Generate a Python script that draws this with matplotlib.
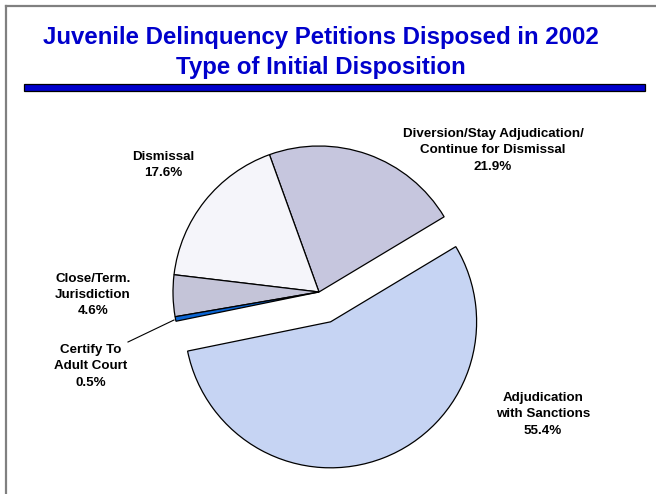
import matplotlib
matplotlib.use("Agg")
import matplotlib.pyplot as plt
from matplotlib.patches import Rectangle

# ── Data ──────────────────────────────────────────────────────────────────────
categories = [
    "Diversion/Stay Adjudication/\nContinue for Dismissal",
    "Dismissal",
    "Close/Term.\nJurisdiction",
    "Certify To\nAdult Court",
    "Adjudication\nwith Sanctions",
]
shares = [21.9, 17.6, 4.6, 0.5, 55.4]
slice_colors = ["#C6C6DE", "#F5F5FA", "#C4C4D8", "#0A64D2", "#C6D4F3"]

# label anchor points in pixel coords (x, y from top)
label_pos = [(493, 150), (163, 165), (93, 295), (91, 366), (543, 414)]

W, H = 656, 494
R = 146                       # pie radius in px
explode = [0, 0, 0, 0, 32]    # pie() takes this in data units (px here)

# ── Figure ────────────────────────────────────────────────────────────────────
plt.rcParams["font.family"] = ["Liberation Sans", "DejaVu Sans"]
fig = plt.figure(figsize=(W / 100, H / 100), dpi=100)
ax = fig.add_axes([0, 0, 1, 1])

ax.pie(
    shares,
    colors=slice_colors,
    explode=explode,
    startangle=31,
    counterclock=True,
    radius=R,
    center=(319, H - 292),
    wedgeprops=dict(edgecolor="black", linewidth=0.9),
)
ax.set_xlim(0, W)
ax.set_ylim(0, H)
ax.set_aspect("equal")
ax.axis("off")

# slice labels
for cat, val, (px, py) in zip(categories, shares, label_pos):
    ax.text(px, H - py, f"{cat}\n{val:.1f}%", ha="center", va="center",
            fontsize=9.6, fontweight="bold", linespacing=1.5)

# leader line for the tiny slice
ax.plot([128, 174], [H - 342, H - 320], color="black", linewidth=0.8)

# ── Title block ───────────────────────────────────────────────────────────────
ax.text(321, H - 44, "Juvenile Delinquency Petitions Disposed in 2002",
        ha="center", va="baseline", fontsize=17.3, fontweight="bold", color="#0000CC")
ax.text(321, H - 74, "Type of Initial Disposition",
        ha="center", va="baseline", fontsize=17.3, fontweight="bold", color="#0000CC")
ax.add_patch(Rectangle((24, H - 91), 621, 7, facecolor="#0000CC",
                       edgecolor="black", linewidth=0.9))

# slide frame (top + left)
ax.plot([6, 6], [0, H - 6], color="#808080", linewidth=1.6)
ax.plot([6, W], [H - 6, H - 6], color="#808080", linewidth=1.6)

fig.savefig("out.png", dpi=100)
